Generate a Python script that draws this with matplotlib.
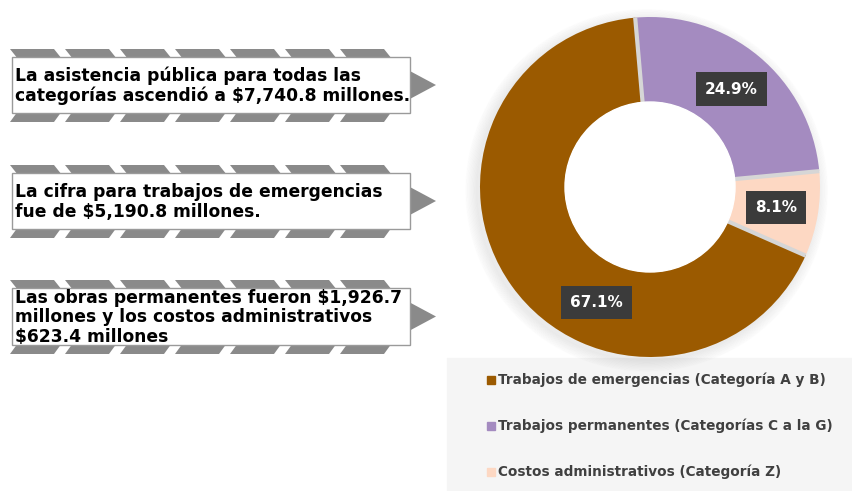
import numpy as np
import matplotlib.pyplot as plt
from matplotlib.patches import Polygon, Rectangle, Circle

# datos del donut
categorias = ['Trabajos de emergencias (Categoría A y B)',
              'Trabajos permanentes (Categorías C a la G)',
              'Costos administrativos (Categoría Z)']
porcentajes = [67.1, 24.9, 8.1]
colores = ['#9b5a00', '#a48bc0', '#fdd8c3']

# textos de la izquierda
notas = ['La asistencia pública para todas las\ncategorías ascendió a $7,740.8 millones.',
         'La cifra para trabajos de emergencias\nfue de $5,190.8 millones.',
         'Las obras permanentes fueron $1,926.7\nmillones y los costos administrativos\n$623.4 millones']

W, H = 852, 491
fig = plt.figure(figsize=(W / 100, H / 100), dpi=100)

# eje de fondo en pixeles (y hacia abajo)
bg = fig.add_axes([0, 0, 1, 1])
bg.set_xlim(0, W)
bg.set_ylim(H, 0)
bg.axis('off')

# fondo gris de la leyenda
bg.add_patch(Rectangle((447, 358), W - 447, H - 358, color='#f5f5f5', zorder=0))

cajas = [(57, 113), (173, 229), (288, 345)]
gris = '#8a8a8a'
for (y0, y1), txt in zip(cajas, notas):
    # franjas en chevron arriba y abajo
    for k in range(7):
        x = 10 + k * 55
        bg.add_patch(Polygon([(x, y0 - 8), (x + 44, y0 - 8), (x + 52, y0 + 2), (x + 8, y0 + 2)],
                             closed=True, color=gris, lw=0, zorder=1))
        bg.add_patch(Polygon([(x + 8, y1 - 2), (x + 52, y1 - 2), (x + 44, y1 + 9), (x, y1 + 9)],
                             closed=True, color=gris, lw=0, zorder=1))
    # flecha
    ym = (y0 + y1) / 2
    bg.add_patch(Polygon([(408, ym - 15), (436, ym), (408, ym + 15)], closed=True,
                         color=gris, lw=0, zorder=1))
    bg.add_patch(Rectangle((12, y0), 398, y1 - y0, facecolor='white',
                           edgecolor='#9a9a9a', lw=1, zorder=2))
    bg.text(15, ym + 1, txt, fontsize=12.3, fontweight='bold', color='black',
            va='center', ha='left', linespacing=1.12, zorder=3)

# leyenda manual
for i, (lab, c) in enumerate(zip(categorias, colores)):
    y = 380 + i * 46
    bg.add_patch(Rectangle((487, y - 4), 8, 8, color=c, zorder=2))
    bg.text(498, y, lab, fontsize=9.8, fontweight='bold', color='#404040',
            va='center', ha='left', zorder=3)

# donut
ax = fig.add_axes([480 / W, (H - 357) / H, 340 / W, 340 / H])
ax.axis('off')

# sombra suave
for s in range(10):
    r = 1.0 + 0.007 * s
    ax.add_patch(Circle((-0.02, -0.02), r, color='black', alpha=0.008,
                        zorder=0, clip_on=False))

orden = [1, 2, 0]
vals = [porcentajes[i] for i in orden]
cols = [colores[i] for i in orden]
wedges, _ = ax.pie(vals, colors=cols, startangle=95, counterclock=False, radius=1.0,
                   wedgeprops=dict(width=0.5, linewidth=0))
ax.add_patch(Circle((0, 0), 0.5, color='white', zorder=5))

# separaciones entre porciones
inicio = 95
for v in vals:
    a = np.radians(inicio)
    ax.plot([0.5 * np.cos(a), 1.0 * np.cos(a)], [0.5 * np.sin(a), 1.0 * np.sin(a)],
            color='#d6d6d6', lw=3, zorder=4, solid_capstyle='butt')
    inicio -= v * 3.6

ax.set_xlim(-1, 1)
ax.set_ylim(-1, 1)

# etiquetas de porcentaje
angulos = {1: None, 2: None, 0: -115}
inicio = 95
for i in orden:
    ang = inicio - porcentajes[i] * 3.6 / 2
    inicio -= porcentajes[i] * 3.6
    if angulos[i] is not None:
        ang = angulos[i]
    x = 0.75 * np.cos(np.radians(ang))
    y = 0.75 * np.sin(np.radians(ang))
    ax.text(x, y, f'{porcentajes[i]:.1f}%', color='white', fontsize=11, fontweight='bold',
            ha='center', va='center', zorder=6,
            bbox=dict(boxstyle='square,pad=0.6', facecolor='#3b3b3b', edgecolor='none'))

fig.savefig('out.png', dpi=100)
